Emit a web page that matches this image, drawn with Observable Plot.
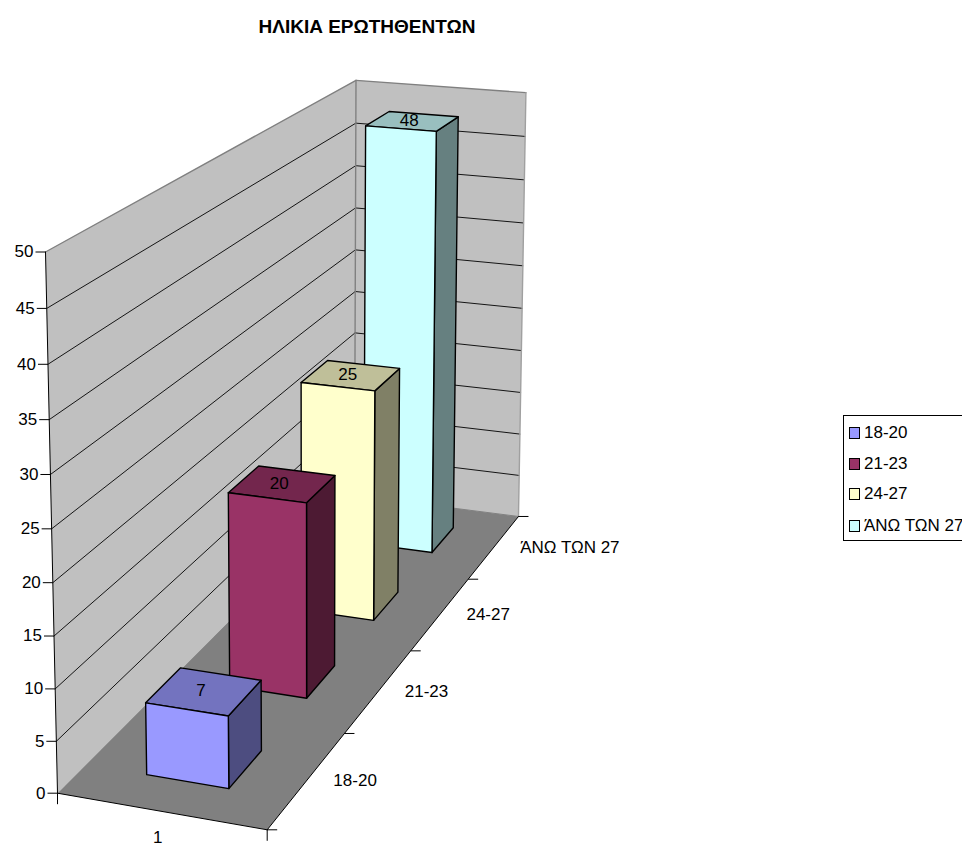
<!DOCTYPE html>
<html>
<head>
<meta charset="utf-8">
<script src="https://cdn.jsdelivr.net/npm/d3@7"></script>
<script src="https://cdn.jsdelivr.net/npm/@observablehq/plot@0.6"></script>
<style>
  html, body { margin: 0; padding: 0; background: #fff; overflow: hidden; }
  #stage { position: relative; width: 962px; height: 847px; overflow: hidden; font-family: "Liberation Sans", Arial, sans-serif; color: #000; }
  #title { position: absolute; left: 0; top: 16px; width: 734px; text-align: center; font-weight: bold; font-size: 19px; line-height: 22px; }
  #legend { position: absolute; left: 843px; top: 415px; width: 160px; height: 124px; border: 1px solid #000; box-sizing: content-box; }
  #legend .row { position: absolute; left: 5px; height: 18px; line-height: 18px; font-size: 17px; white-space: nowrap; }
  #legend .sw { display: inline-block; width: 9px; height: 10px; border: 1px solid #000; margin-right: 4px; vertical-align: -1px; }
  #chart svg { display: block; }
</style>
</head>
<body>
<div id="stage">
  <div id="title"></div>
  <div id="chart"></div>
  <div id="legend"></div>
</div>
<script>
// Chart content
const chartTitle = "ΗΛΙΚΙΑ ΕΡΩΤΗΘΕΝΤΩΝ";
const ageGroups = ["18-20", "21-23", "24-27", "ΆΝΩ ΤΩΝ 27"];
const respondents = [7, 20, 25, 48];
const categoryLabels = ["1"];
const valueTicks = [0, 5, 10, 15, 20, 25, 30, 35, 40, 45, 50];

// Face shades for each series: front, top, side
const frontColors = ["#9999FF", "#993366", "#FFFFCC", "#CCFFFF"];
const topColors = ["#7373BF", "#73264D", "#BFBF99", "#99BFBF"];
const sideColors = ["#4D4D80", "#4D1A33", "#808066", "#668080"];

// Perspective camera of the 3D plot box. u runs along the category axis,
// w along the series axis into the depth, v up the value axis; each 0..1.
const origin = [57, 792.7];
const uEnd = [266.7, 829.3];
const wEnd = [354, 495];
const vEnd = [45, 251.5];
const persp = { u: -0.0283, w: 0.3222, v: -0.045 };
const axisU = [uEnd[0] - origin[0], uEnd[1] - origin[1]].map(d => d * (1 + persp.u));
const axisW = [wEnd[0] - origin[0], wEnd[1] - origin[1]].map(d => d * (1 + persp.w));
const axisV = [vEnd[0] - origin[0], vEnd[1] - origin[1]].map(d => d * (1 + persp.v));

function project(u, w, v) {
  const q = 1 + persp.u * u + persp.w * w + persp.v * v;
  return {
    x: origin[0] + (axisU[0] * u + axisW[0] * w + axisV[0] * v) / q,
    y: origin[1] + (axisU[1] * u + axisW[1] * w + axisV[1] * v) / q
  };
}

const vScale = d3.scaleLinear().domain([0, d3.max(valueTicks)]).range([0, 1]);
const wScale = d3.scaleBand().domain(ageGroups).range([0, 1]);
const barU = [0.3, 0.7];       // bar extent along the category axis
const barDepth = 0.1;          // bar extent along the series axis

// Closed polygon through projected corners
const face = (corners, fill, stroke, strokeWidth) =>
  Plot.line(corners.map(c => project(...c)), {
    x: "x", y: "y", curve: "linear-closed", fill, stroke, strokeWidth
  });

// Open segment through projected corners
const seg = (a, b, stroke, strokeWidth) =>
  Plot.line([project(...a), project(...b)], { x: "x", y: "y", stroke, strokeWidth });

const walls = [
  face([[0,0,0],[0,1,0],[0,1,1],[0,0,1]], "#C0C0C0", "none", 0),
  face([[0,1,0],[1,1,0],[1,1,1],[0,1,1]], "#C0C0C0", "none", 0),
  face([[0,0,0],[1,0,0],[1,1,0],[0,1,0]], "#808080", "none", 0)
];

const wallEdges = [
  seg([0,0,1],[0,1,1], "#808080", 1.4),
  seg([0,1,1],[1,1,1], "#808080", 1.4),
  seg([0,1,0],[0,1,1], "#808080", 1.4),
  seg([1,1,0],[1,1,1], "#A0A0A0", 1.4),
  seg([0,1,0],[1,1,0], "#808080", 1)
];

const gridLevels = valueTicks.filter(t => t > 0 && t < d3.max(valueTicks));
const gridLines = gridLevels.flatMap(t => {
  const v = vScale(t);
  return [seg([0,0,v],[0,1,v], "#000", 0.9), seg([0,1,v],[1,1,v], "#000", 0.9)];
});

// Black frame lines of the axes
const axisLines = [
  seg([0,0,0],[0,0,1], "#000", 1),
  seg([0,0,0],[1,0,0], "#000", 1),
  seg([1,0,0],[1,1,0], "#000", 1)
];

// Value axis: ticks to the left of the front vertical edge, with labels
const valuePoints = valueTicks.map(t => ({ t, ...project(0, 0, vScale(t)) }));
const valueAxis = [
  Plot.link(valuePoints, { x1: d => d.x - 10, y1: "y", x2: "x", y2: "y", stroke: "#000", strokeWidth: 1 }),
  Plot.text(valuePoints, {
    x: "x", y: "y", text: d => String(d.t), dx: -12, textAnchor: "end",
    fontSize: 17, fill: "#000", lineAnchor: "middle"
  })
];

// Series axis: ticks along the right floor edge, group names beside each band
const seriesTickPoints = d3.range(ageGroups.length + 1).map(i => project(1, i / ageGroups.length, 0));
const seriesPoints = ageGroups.map(g => ({ g, ...project(1, wScale(g) + wScale.bandwidth() / 2, 0) }));
const seriesAxis = [
  Plot.link(seriesTickPoints, { x1: "x", y1: "y", x2: d => d.x + 10, y2: "y", stroke: "#000", strokeWidth: 1 }),
  Plot.text(seriesPoints, {
    x: "x", y: "y", text: "g", dx: 26, dy: 1, textAnchor: "start",
    fontSize: 17, fill: "#000", lineAnchor: "middle"
  })
];

// Category axis: ticks below the two front corners, and its single label
const categoryTicks = [0, 1].map(u => project(u, 0, 0));
const categoryPoints = categoryLabels.map(c => ({ c, ...project(0.5, 0, 0) }));
const categoryAxis = [
  Plot.link(categoryTicks, { x1: "x", y1: "y", x2: "x", y2: d => d.y + 11, stroke: "#000", strokeWidth: 1 }),
  Plot.text(categoryPoints, {
    x: "x", y: "y", text: "c", dx: -3, dy: 26, fontSize: 17, fill: "#000", lineAnchor: "middle"
  })
];

// Bars are painted from the back row to the front row
const barMarks = d3.range(ageGroups.length).reverse().flatMap(i => {
  const mid = wScale(ageGroups[i]) + wScale.bandwidth() / 2;
  const w0 = mid - barDepth / 2, w1 = mid + barDepth / 2;
  const [u0, u1] = barU;
  const v = vScale(respondents[i]);
  return [
    face([[u1,w0,0],[u1,w1,0],[u1,w1,v],[u1,w0,v]], sideColors[i], "#000", 1.4),
    face([[u0,w0,v],[u1,w0,v],[u1,w1,v],[u0,w1,v]], topColors[i], "#000", 1.4),
    face([[u0,w0,0],[u1,w0,0],[u1,w0,v],[u0,w0,v]], frontColors[i], "#000", 1.4),
    Plot.text([{ n: respondents[i], ...project(0.5, mid, v) }], {
      x: "x", y: "y", text: d => String(d.n), dx: -3, dy: -1, fontSize: 17, fill: "#000", lineAnchor: "middle"
    })
  ];
});

const chart = Plot.plot({
  width: 962,
  height: 847,
  margin: 0,
  style: { background: "transparent", fontFamily: '"Liberation Sans", Arial, sans-serif' },
  x: { domain: [0, 962], range: [0, 962], axis: null },
  y: { domain: [0, 847], range: [0, 847], axis: null },
  marks: [
    ...walls,
    ...gridLines,
    ...wallEdges,
    ...axisLines,
    ...valueAxis,
    ...seriesAxis,
    ...categoryAxis,
    ...barMarks
  ]
});
document.getElementById("chart").append(chart);

document.getElementById("title").textContent = chartTitle;

// Legend box, cut off by the right edge of the page
const legend = document.getElementById("legend");
const rowTops = [8, 39, 69, 101];
ageGroups.forEach((g, i) => {
  const row = document.createElement("div");
  row.className = "row";
  row.style.top = rowTops[i] + "px";
  const sw = document.createElement("span");
  sw.className = "sw";
  sw.style.background = frontColors[i];
  row.append(sw, document.createTextNode(g));
  legend.append(row);
});
</script>
</body>
</html>
